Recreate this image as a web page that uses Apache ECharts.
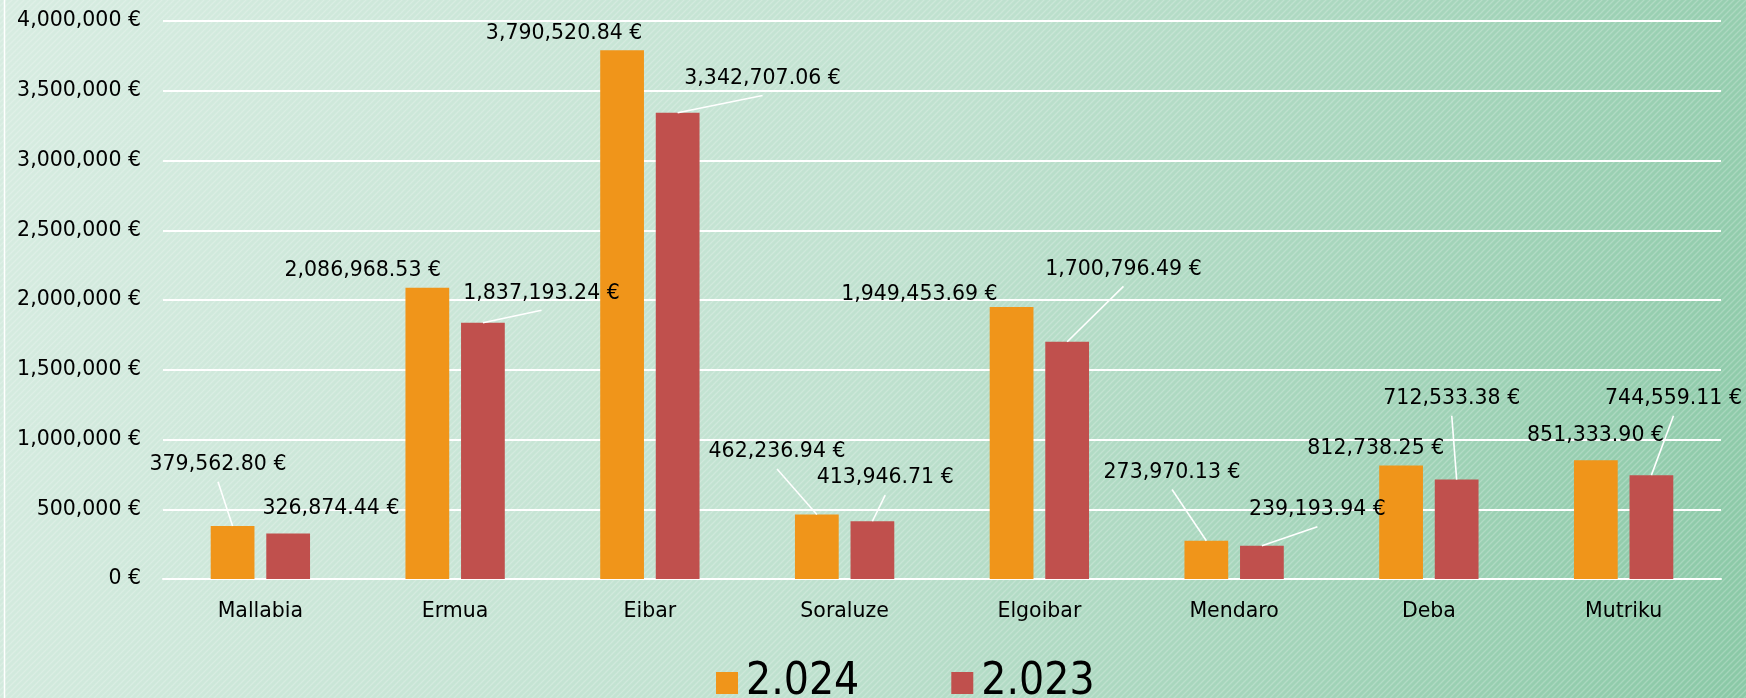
<!DOCTYPE html>
<html>
<head>
<meta charset="utf-8">
<title>2.024 / 2.023</title>
<script src="https://cdn.jsdelivr.net/npm/echarts@6/dist/echarts.min.js"></script>
<style>
  html, body { margin: 0; padding: 0; }
  #chart { width: 1746px; height: 698px; }
</style>
</head>
<body>
<div id="chart"></div>
<script>
const categories = ['Mallabia', 'Ermua', 'Eibar', 'Soraluze', 'Elgoibar', 'Mendaro', 'Deba', 'Mutriku'];
const values2024 = [379562.80, 2086968.53, 3790520.84, 462236.94, 1949453.69, 273970.13, 812738.25, 851333.90];
const values2023 = [326874.44, 1837193.24, 3342707.06, 413946.71, 1700796.49, 239193.94, 712533.38, 744559.11];
const seriesNames = ['2.024', '2.023'];
const yMin = 0;
const yMax = 4000000;
const yStep = 500000;

// where each value label sits, relative to the top centre of its bar (px)
const labelShift = [
  [[-14.6, -61.3], [-64.6, -17.2], [-58, -16.7], [-39.8, -62.5], [-92.2, -12.1], [-34.3, -68.3], [-25.3, -16.8], [-0.3, -24.7]],
  [[42.8, -24.4], [58.6, -29.4], [84.9, -34.2], [12.8, -43.2], [56.3, -72.3], [55.5, -35.9], [-4.9, -80.8], [22.1, -76.3]]
];
// which labels get a white leader line
const leaderShown = [
  [1, 0, 0, 1, 0, 1, 0, 0],
  [0, 1, 1, 1, 1, 1, 1, 1]
];

const allValues = [values2024, values2023];
const catGap = 0.49;
const barGap = 0.27;
const font = 'DejaVu Sans';

function euro (v, decimals) {
  return v.toLocaleString('en-US', { minimumFractionDigits: decimals, maximumFractionDigits: decimals }) + ' €';
}

// diagonal stripe texture for the background
const tile = document.createElement('canvas');
tile.width = 6;
tile.height = 6;
const tctx = tile.getContext('2d');
tctx.strokeStyle = 'rgba(255,255,255,0.22)';
tctx.lineWidth = 1.4;
tctx.beginPath();
tctx.moveTo(-1, 7); tctx.lineTo(7, -1);
tctx.moveTo(-4, 4); tctx.lineTo(4, -4);
tctx.moveTo(2, 10); tctx.lineTo(10, 2);
tctx.stroke();

const leaderData = [];
allValues.forEach(function (vals, s) {
  vals.forEach(function (v, i) {
    if (leaderShown[s][i]) leaderData.push([i, s, v]);
  });
});

const myChart = echarts.init(document.getElementById('chart'));
const option = {
  backgroundColor: new echarts.graphic.LinearGradient(0, 0.1, 1, 0.9, [
    { offset: 0, color: '#d7ece1' },
    { offset: 0.5, color: '#bfe1cf' },
    { offset: 1, color: '#8bc9a7' }
  ]),
  animation: false,
  textStyle: { fontFamily: font },
  graphic: [
    {
      type: 'rect',
      z: -10,
      silent: true,
      shape: { x: 0, y: 0, width: 1746, height: 698 },
      style: { fill: { image: tile, repeat: 'repeat' } }
    },
    {
      type: 'line',
      silent: true,
      shape: { x1: 4.5, y1: 0, x2: 4.5, y2: 698 },
      style: { stroke: '#ffffff', lineWidth: 1.5 }
    }
  ],
  grid: {
    left: 163,
    right: 25,
    top: 21,
    bottom: 119,
    outerBoundsMode: 'none'
  },
  legend: {
    data: seriesNames,
    left: 711,
    top: 656,
    icon: 'rect',
    itemWidth: 22,
    itemHeight: 22,
    itemGap: 92,
    textStyle: {
      fontFamily: 'Liberation Sans Narrow, DejaVu Sans Condensed, sans-serif',
      fontSize: 44,
      color: '#000',
      padding: [0, 0, 0, 3]
    }
  },
  xAxis: {
    type: 'category',
    data: categories,
    axisLine: { lineStyle: { color: '#ffffff', width: 2 } },
    axisTick: { show: false },
    axisLabel: { fontSize: 20.5, color: '#000', margin: 22, fontFamily: font }
  },
  yAxis: {
    type: 'value',
    min: yMin,
    max: yMax,
    interval: yStep,
    axisLine: { show: false },
    axisTick: { show: false },
    splitLine: { lineStyle: { color: '#ffffff', width: 2 } },
    axisLabel: {
      fontSize: 20.5,
      color: '#000',
      margin: 22,
      fontFamily: font,
      formatter: function (v) { return euro(v, 0); }
    }
  },
  series: [
    ...allValues.map(function (vals, s) {
      return {
        name: seriesNames[s],
        type: 'bar',
        data: vals,
        barCategoryGap: (catGap * 100) + '%',
        barGap: (barGap * 100) + '%',
        itemStyle: { color: s === 0 ? '#f0951a' : '#c0504d' },
        label: {
          show: true,
          position: 'top',
          distance: 0,
          fontSize: 20.5,
          lineHeight: 24,
          color: '#000',
          fontFamily: font,
          formatter: function (p) { return euro(p.value, 2); }
        },
        labelLayout: function (p) {
          const sh = labelShift[p.seriesIndex][p.dataIndex];
          return { dx: sh[0], dy: sh[1] + 12 };
        }
      };
    }),
    {
      // leader lines from the bar top to the moved label
      type: 'custom',
      silent: true,
      z: 3,
      encode: { x: 0, y: 2 },
      data: leaderData,
      renderItem: function (params, api) {
        const i = api.value(0);
        const s = api.value(1);
        const pt = api.coord([i, api.value(2)]);
        const band = api.size([1, 0])[0];
        const w = band * (1 - catGap) / (2 + barGap);
        const off = (w + w * barGap) / 2;
        const x1 = pt[0] + (s === 0 ? -off : off);
        const y1 = pt[1];
        const sh = labelShift[s][i];
        return {
          type: 'line',
          shape: { x1: x1, y1: y1, x2: x1 + sh[0], y2: y1 + sh[1] + 17 },
          style: { stroke: '#ffffff', lineWidth: 1.6 }
        };
      }
    }
  ]
};
myChart.setOption(option);
</script>
</body>
</html>
